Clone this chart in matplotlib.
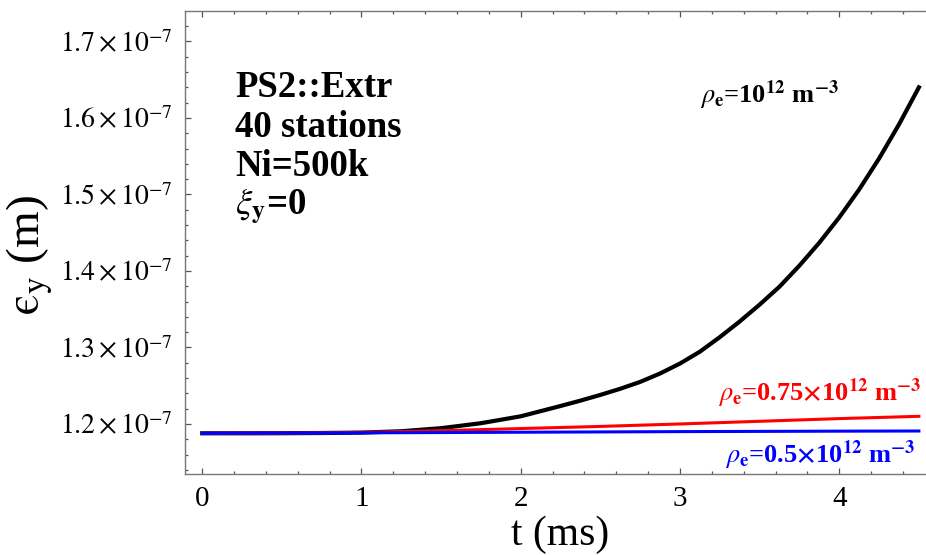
import matplotlib
matplotlib.use("Agg")
import matplotlib.pyplot as plt
from matplotlib.ticker import MultipleLocator, FixedLocator, FixedFormatter

plt.rcParams['mathtext.fontset'] = 'stix'
plt.rcParams['font.family'] = ['Liberation Serif', 'DejaVu Serif']

# data (emittance in units of 1e-7 m)
t_black = [0.0, 0.25, 0.5, 0.75, 1.0, 1.25, 1.5, 1.75, 2.0, 2.25, 2.375, 2.5, 2.625, 2.75,
           2.875, 3.0, 3.125, 3.25, 3.375, 3.5, 3.625, 3.75, 3.875, 4.0, 4.125, 4.25,
           4.375, 4.5]
eps_1 = [1.1878, 1.1878, 1.1879, 1.1882, 1.1887, 1.1905, 1.1945, 1.2010, 1.2100, 1.2235,
         1.2305, 1.2380, 1.2460, 1.2550, 1.2660, 1.2790, 1.2945, 1.3135, 1.3340, 1.3560,
         1.3795, 1.4070, 1.4370, 1.4700, 1.5065, 1.5470, 1.5915, 1.6400]

t_low = [0.0, 0.5, 1.0, 1.5, 2.0, 2.5, 3.0, 3.5, 4.0, 4.5]
eps_075 = [1.1878, 1.1880, 1.1890, 1.1912, 1.1940, 1.1968, 1.2000, 1.2035, 1.2070, 1.2100]
eps_05 = [1.1878, 1.1881, 1.1884, 1.1888, 1.1892, 1.1896, 1.1900, 1.1903, 1.1906, 1.1908]

yticks = [1.2, 1.3, 1.4, 1.5, 1.6, 1.7]
ytick_labels = [r'$%.1f\times10^{-7}$' % v for v in yticks]
xticks = [0, 1, 2, 3, 4]

W, H = 926, 555
fig = plt.figure(figsize=(W / 100, H / 100), dpi=100)
left_px, right_px, top_px, bottom_px = 184.7, 936.4, 11, 474
ax = fig.add_axes([left_px / W, 1 - bottom_px / H, (right_px - left_px) / W,
                   (bottom_px - top_px) / H])

ax.plot(t_black, eps_1, color='black', lw=3.0, solid_joinstyle='round')
ax.plot(t_low, eps_075, color='#ff0000', lw=2.2)
ax.plot(t_low, eps_05, color='#0000ff', lw=2.2)

ax.set_xlim(-0.11, 4.61)
ax.set_ylim(1.1346, 1.7398)

ax.xaxis.set_major_locator(FixedLocator(xticks))
ax.xaxis.set_minor_locator(MultipleLocator(0.2))
ax.yaxis.set_major_locator(FixedLocator(yticks))
ax.yaxis.set_major_formatter(FixedFormatter(ytick_labels))
ax.yaxis.set_minor_locator(MultipleLocator(0.02))

for s in ax.spines.values():
    s.set_color('#777777')
    s.set_linewidth(1.0)

ax.tick_params(which='both', direction='in', top=True, right=True, color='#555555', width=0.9)
ax.tick_params(which='major', length=4.0)
ax.tick_params(which='minor', length=2.0)
ax.tick_params(axis='x', which='major', labelsize=21, pad=9)
ax.tick_params(axis='y', which='major', labelsize=20, pad=9)

def px(x, y):
    return x / W, 1 - y / H

fig.text(*px(560, 545), 't (ms)', fontsize=30, ha='center', va='baseline')
fig.text(*px(30, 255), '$\\mathrm{\u03f5}_{\\mathrm{y}}$ (m)', fontsize=34, ha='center',
         va='center', rotation=90)

info = ['PS2::Extr', '40 stations', 'Ni=500k', r'$\xi_{\mathbf{y}}$=0']
for i, s in enumerate(info):
    fig.text(*px(235, 88 + 39.5 * i), s, fontsize=26.5, fontweight='bold',
             va='center', ha='left', color='black')

lab_kw = dict(fontsize=19, fontweight='bold', va='baseline')
fig.text(*px(700, 103), r'$\rho_{\mathbf{e}}$=10$^{\mathbf{12}}$ m$^{\mathbf{-3}}$',
         color='black', ha='left', **lab_kw)
fig.text(*px(921, 400.5), r'$\rho_{\mathbf{e}}$=0.75$\mathbf{\times}$10$^{\mathbf{12}}$ m$^{\mathbf{-3}}$',
         color='#ff0000', ha='right', **lab_kw)
fig.text(*px(915, 463), r'$\rho_{\mathbf{e}}$=0.5$\mathbf{\times}$10$^{\mathbf{12}}$ m$^{\mathbf{-3}}$',
         color='#0000ff', ha='right', **lab_kw)

fig.savefig('out.png', dpi=100)
